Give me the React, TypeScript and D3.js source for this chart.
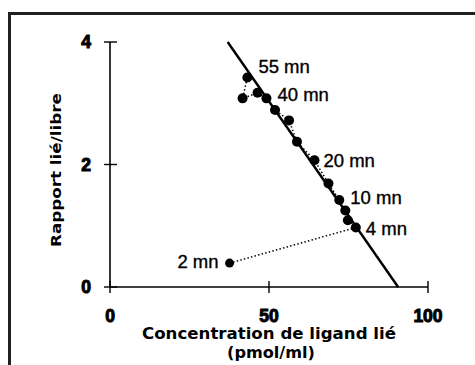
import { useEffect, useRef } from "react";
import * as d3 from "d3";

// bound concentration (pmol/ml) and bound/free ratio, in time order
const boundConc = [37.6, 77.3, 74.8, 74.0, 72.1, 68.7, 64.3, 58.8, 56.3, 51.9, 49.2, 46.4, 41.7, 43.2];
const ratio = [0.39, 0.97, 1.09, 1.25, 1.42, 1.69, 2.07, 2.37, 2.72, 2.89, 3.08, 3.17, 3.08, 3.42];
const timeLabels = ["2 mn", "4 mn", "", "", "10 mn", "", "20 mn", "", "", "", "40 mn", "", "", "55 mn"];
const fitLine = [
  [37.0, 4],
  [90.6, 0],
];
const xTicks = [0, 50, 100];
const yTicks = [0, 2, 4];

export default function App() {
  const svgRef = useRef<SVGSVGElement>(null);

  useEffect(() => {
    if (!svgRef.current) return;
    const svg = d3.select(svgRef.current);
    svg.selectAll("*").remove();

    const x = d3.scaleLinear().domain([0, 100]).range([110, 428]);
    const y = d3.scaleLinear().domain([0, 4]).range([287, 42]);

    // frame
    svg.append("path")
      .attr("d", "M9.5,365V13.5H475")
      .attr("fill", "none")
      .attr("stroke", "#231f20")
      .attr("stroke-width", 3);

    // axes
    svg.append("line")
      .attr("x1", x(0)).attr("x2", x(100))
      .attr("y1", y(0)).attr("y2", y(0))
      .attr("stroke", "#000").attr("stroke-width", 1.6);
    svg.append("line")
      .attr("x1", x(0)).attr("x2", x(0))
      .attr("y1", y(0)).attr("y2", y(4))
      .attr("stroke", "#000").attr("stroke-width", 1.6);

    svg.selectAll(".xt")
      .data(xTicks)
      .enter()
      .append("line")
      .attr("x1", (d) => x(d)).attr("x2", (d) => x(d))
      .attr("y1", y(0) - 6).attr("y2", y(0) + 6)
      .attr("stroke", "#000").attr("stroke-width", 1.4);
    svg.selectAll(".yt")
      .data(yTicks)
      .enter()
      .append("line")
      .attr("x1", x(0) - 6).attr("x2", x(0) + 7)
      .attr("y1", (d) => y(d)).attr("y2", (d) => y(d))
      .attr("stroke", "#000").attr("stroke-width", 1.4);

    const tickFont = "'Liberation Sans', Arial, sans-serif";
    svg.selectAll(".xl")
      .data(xTicks)
      .enter()
      .append("text")
      .attr("x", (d) => x(d))
      .attr("y", 322)
      .attr("text-anchor", "middle")
      .attr("font-family", tickFont)
      .attr("font-weight", "bold")
      .attr("font-size", 17.5)
      .attr("stroke", "#000").attr("stroke-width", 1)
      .text((d) => d);
    svg.selectAll(".yl")
      .data(yTicks)
      .enter()
      .append("text")
      .attr("x", 86)
      .attr("y", (d) => y(d) + 6)
      .attr("text-anchor", "middle")
      .attr("font-family", tickFont)
      .attr("font-weight", "bold")
      .attr("font-size", 17.5)
      .attr("stroke", "#000").attr("stroke-width", 1)
      .text((d) => d);

    // titles
    const titleFont = "'DejaVu Sans', sans-serif";
    svg.append("text")
      .attr("x", 269).attr("y", 339)
      .attr("text-anchor", "middle")
      .attr("font-family", titleFont).attr("font-weight", "bold").attr("font-size", 15)
      .attr("textLength", 254).attr("lengthAdjust", "spacingAndGlyphs")
      .text("Concentration de ligand lié");
    svg.append("text")
      .attr("x", 271).attr("y", 358)
      .attr("text-anchor", "middle")
      .attr("font-family", titleFont).attr("font-weight", "bold").attr("font-size", 15)
      .attr("textLength", 88).attr("lengthAdjust", "spacingAndGlyphs")
      .text("(pmol/ml)");
    svg.append("text")
      .attr("transform", "translate(61,170) rotate(-90)")
      .attr("text-anchor", "middle")
      .attr("font-family", titleFont).attr("font-weight", "bold").attr("font-size", 14)
      .attr("textLength", 154).attr("lengthAdjust", "spacingAndGlyphs")
      .text("Rapport lié/libre");

    // fitted line
    svg.append("path")
      .attr("d", d3.line()(fitLine.map((p) => [x(p[0]), y(p[1])] as [number, number])))
      .attr("stroke", "#000").attr("stroke-width", 2.4).attr("fill", "none");

    // dotted time course
    const pts = boundConc.map((c, i) => [x(c), y(ratio[i])] as [number, number]);
    svg.append("path")
      .attr("d", d3.line()(pts))
      .attr("stroke", "#000").attr("stroke-width", 1.5)
      .attr("stroke-dasharray", "1.5,2.2")
      .attr("fill", "none");

    svg.selectAll(".pt")
      .data(pts)
      .enter()
      .append("circle")
      .attr("cx", (d) => d[0]).attr("cy", (d) => d[1])
      .attr("r", (d, i) => (i === 0 ? 4.5 : 5))
      .attr("fill", "#000");

    // time labels
    const labelOffsets: Record<string, [number, number, string]> = {
      "2 mn": [-11, 5, "end"],
      "4 mn": [10, 7, "start"],
      "10 mn": [11, 4, "start"],
      "20 mn": [9, 7, "start"],
      "40 mn": [11, 3, "start"],
      "55 mn": [11, -5, "start"],
    };
    timeLabels.forEach((lab, i) => {
      if (!lab) return;
      const [dx, dy, anchor] = labelOffsets[lab];
      svg.append("text")
        .attr("x", pts[i][0] + dx)
        .attr("y", pts[i][1] + dy)
        .attr("text-anchor", anchor)
        .attr("font-family", tickFont)
        .attr("font-size", 18.5)
        .attr("stroke", "#000").attr("stroke-width", 0.35)
        .text(lab);
    });
  }, []);

  return (
    <svg
      ref={svgRef}
      width="475"
      height="365"
      style={{ position: "absolute", left: 0, top: 0, background: "#fff" }}
    />
  );
}
